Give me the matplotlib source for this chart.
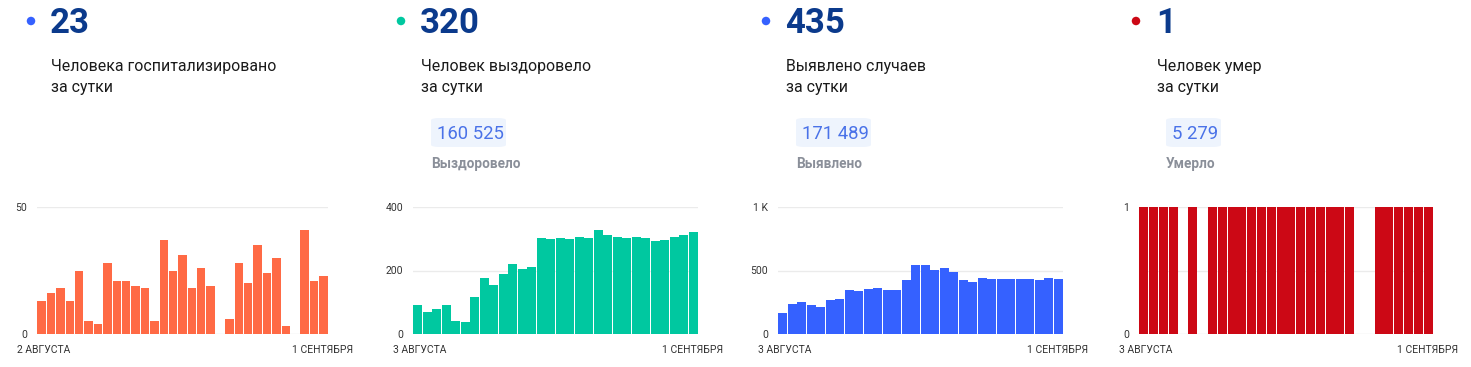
import matplotlib
matplotlib.use("Agg")
import matplotlib.pyplot as plt
from matplotlib.patches import FancyBboxPatch, Ellipse

plt.rcParams['font.family'] = ['Roboto', 'DejaVu Sans']

W, H = 1471, 367

# data
hosp = [13, 16, 18, 13, 25, 5, 4, 28, 21, 21, 19, 18, 5, 37, 25, 31, 18, 26, 19,
        0, 6, 28, 20, 35, 24, 30, 3, 0, 41, 21, 23]
recov = [90, 69, 78, 92, 42, 37, 116, 177, 154, 190, 221, 206, 210, 301, 299, 303,
         299, 306, 301, 326, 312, 306, 302, 304, 301, 292, 296, 306, 312, 320]
cases = [168, 239, 250, 229, 216, 266, 276, 347, 337, 355, 363, 345, 345, 426, 542,
         547, 503, 521, 489, 429, 408, 439, 432, 437, 434, 432, 434, 426, 442, 435]
deaths = [1, 1, 1, 1, 0, 1, 0] + [1] * 15 + [0, 0] + [1] * 6

big_numbers = ["23", "320", "435", "1"]
subtitles = [("Человека госпитализировано", "за сутки"),
             ("Человек выздоровело", "за сутки"),
             ("Выявлено случаев", "за сутки"),
             ("Человек умер", "за сутки")]
totals = [None, "160 525", "171 489", "5 279"]
total_labels = [None, "Выздоровело", "Выявлено", "Умерло"]
start_labels = ["2 АВГУСТА", "3 АВГУСТА", "3 АВГУСТА", "3 АВГУСТА"]
end_label = "1 СЕНТЯБРЯ"

series = [hosp, recov, cases, deaths]
bar_colors = ["#ff6a45", "#00c8a0", "#3561ff", "#cc0815"]
dot_colors = ["#3561ff", "#00c8a0", "#3561ff", "#cc0815"]
ylims = [50, 400, 1000, 1]
yticks = [[0, 50], [0, 200, 400], [0, 500, 1000], [0, 1]]
yticklabels = [["0", "50"], ["0", "200", "400"], ["0", "500", "1 K"], ["0", "1"]]
grids = [[50], [200, 400], [500, 1000], [0.5, 1]]

# layout in pixels
ax_left = [37, 413, 778, 1139]
ax_right = [328, 698, 1063, 1433]
ax_top, ax_bot = 207, 334
dot_x = [31, 401, 766, 1136]
num_x = [51, 421, 786, 1157]
box_x = [None, (431, 506), (796, 871), (1166, 1221)]

fig = plt.figure(figsize=(W / 100, H / 100), dpi=100)


def fx(x):
    return x / W


def fy(y):
    return 1 - y / H


for i in range(4):
    # header
    fig.patches.append(Ellipse((fx(dot_x[i]), fy(21)), 8.5 / W, 8.5 / H,
                               transform=fig.transFigure, color=dot_colors[i], ec="none"))
    fig.text(fx(num_x[i] - 1), fy(33), big_numbers[i], fontsize=25, fontweight="bold",
             color="#0b3a8c", va="baseline", ha="left")
    fig.text(fx(num_x[i]), fy(71), subtitles[i][0], fontsize=11.4, color="#1a1a1a",
             va="baseline")
    fig.text(fx(num_x[i]), fy(92), subtitles[i][1], fontsize=11.4, color="#1a1a1a",
             va="baseline")
    if totals[i]:
        x0, x1 = box_x[i]
        box = FancyBboxPatch((fx(x0), fy(147)), fx(x1 - x0), (147 - 118) / H,
                             boxstyle="round,pad=0,rounding_size=0.006",
                             transform=fig.transFigure, fc="#eef4fd", ec="none")
        fig.patches.append(box)
        fig.text(fx(x0 + 6), fy(138.5), totals[i], fontsize=13.3, color="#4a72e8",
                 va="baseline")
        fig.text(fx(x0), fy(168.5), total_labels[i], fontsize=9.8, fontweight="bold",
                 color="#8a8f99", va="baseline")

    # chart
    ax = fig.add_axes([fx(ax_left[i]), fy(ax_bot), fx(ax_right[i] - ax_left[i]),
                       (ax_bot - ax_top) / H])
    vals = series[i]
    n = len(vals)
    ax.bar(range(n), vals, width=0.9, color=bar_colors[i], edgecolor="none", zorder=2)
    ax.set_xlim(-0.5, n - 0.5)
    ax.set_ylim(0, ylims[i])
    for g in grids[i]:
        ax.axhline(g, color="#ebebeb", lw=1, zorder=1)
    ax.axhline(0, color="#e6e6e6", lw=1, zorder=1)
    ax.set_yticks(yticks[i])
    ax.set_yticklabels(yticklabels[i])
    ax.tick_params(axis="y", length=0, pad=7, labelsize=7.5, labelcolor="#333333")
    ax.set_xticks([])
    for s in ax.spines.values():
        s.set_visible(False)
    ax.patch.set_alpha(0)

    fig.text(fx(ax_left[i] - 20), fy(353), start_labels[i], fontsize=7.5,
             color="#333333", va="baseline", ha="left")
    fig.text(fx(ax_right[i] + 25), fy(353), end_label, fontsize=7.5,
             color="#333333", va="baseline", ha="right")

fig.savefig("out.png", dpi=100, facecolor="white")
